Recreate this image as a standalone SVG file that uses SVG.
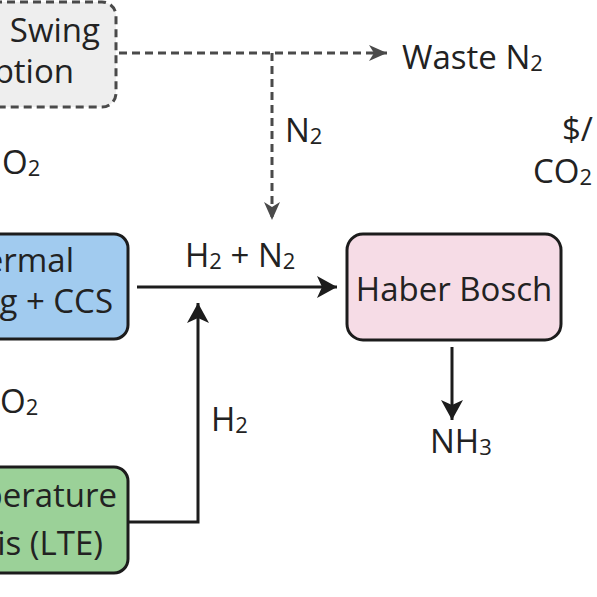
<svg xmlns="http://www.w3.org/2000/svg" width="597" height="597" viewBox="0 0 597 597">
<style>
text{font-family:"Open Sans","Noto Sans","Liberation Sans",sans-serif;font-size:33px;fill:#222}
.sub{font-size:22px}
.box{stroke:#1c1c1c;stroke-width:3}
.dash{fill:none;stroke:#4a4a4a;stroke-width:3;stroke-dasharray:8 5}
.solid{fill:none;stroke:#1c1c1c;stroke-width:3}
</style>
<defs>
<marker id="ah" markerUnits="userSpaceOnUse" markerWidth="22" markerHeight="22" refX="20" refY="11" orient="auto">
<path d="M0,0 L20,11 L0,22 L5,11 z" fill="#1c1c1c"/>
</marker>
<marker id="ahg" markerUnits="userSpaceOnUse" markerWidth="20" markerHeight="20" refX="18" refY="9" orient="auto">
<path d="M0,1 L18,9 L0,17 L5,9 z" fill="#4a4a4a"/>
</marker>
</defs>
<rect width="597" height="597" fill="#ffffff"/>
<g id="connectors">
<path class="dash" d="M119,53 H387" marker-end="url(#ahg)"/>
<path class="dash" d="M272,53 V220" marker-end="url(#ahg)"/>
<path class="solid" d="M137,287 H337" marker-end="url(#ah)"/>
<path class="solid" d="M128,522 H198 V303" marker-end="url(#ah)"/>
<path class="solid" d="M452,347 V420" marker-end="url(#ah)"/>
</g>
<g id="psa">
<rect x="-20" y="2" width="136" height="105" rx="14" fill="#eeeeee" stroke="#4a4a4a" stroke-width="3" stroke-dasharray="8 5"/>
<text x="100" y="42" text-anchor="end">Swing</text>
<text x="74" y="83" text-anchor="end">ption</text>
</g>
<g id="atr">
<rect class="box" x="-20" y="234" width="148" height="105" rx="14" fill="#a1cbef"/>
<text x="74" y="272" text-anchor="end">ermal</text>
<text x="113" y="313" text-anchor="end">g + CCS</text>
</g>
<g id="lte">
<rect class="box" x="-20" y="467" width="148" height="106" rx="14" fill="#9bd198"/>
<text x="117" y="507" text-anchor="end">perature</text>
<text x="103" y="555" text-anchor="end">is (LTE)</text>
</g>
<g id="haber">
<rect class="box" x="347" y="234" width="214" height="106" rx="16" fill="#f6dce6"/>
<text x="454" y="301" text-anchor="middle">Haber Bosch</text>
</g>
<g id="labels">
<text x="402" y="69">Waste N<tspan class="sub" dy="2">2</tspan></text>
<text x="285" y="142">N<tspan class="sub" dy="2">2</tspan></text>
<text x="185" y="267">H<tspan class="sub" dy="2">2</tspan><tspan dy="-2"> + N</tspan><tspan class="sub" dy="2">2</tspan></text>
<text x="211" y="431">H<tspan class="sub" dy="2">2</tspan></text>
<text x="430" y="453">NH<tspan class="sub" dy="2">3</tspan></text>
<text x="2" y="174">O<tspan class="sub" dy="2">2</tspan></text>
<text x="0" y="413">O<tspan class="sub" dy="2">2</tspan></text>
<text x="562" y="141">$/</text>
<text x="533" y="183">CO<tspan class="sub" dy="2">2</tspan></text>
</g>
</svg>
